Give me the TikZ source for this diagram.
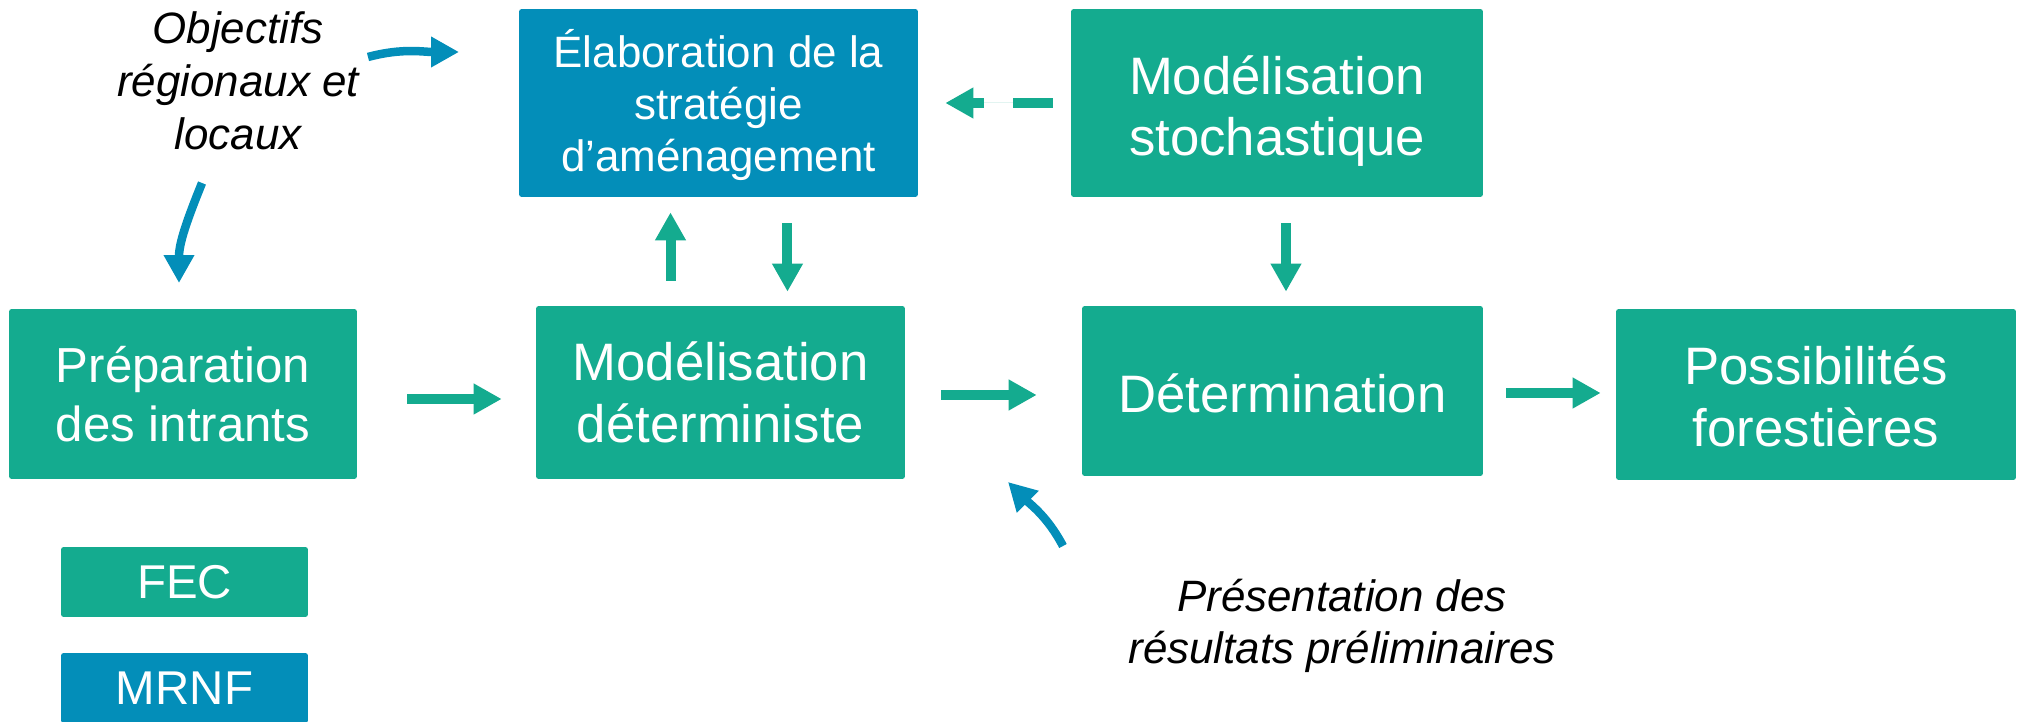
\documentclass[tikz,border=0pt]{standalone}
\usepackage{fontspec}
\setmainfont{Liberation Sans}
\usetikzlibrary{arrows.meta}
\definecolor{fecgreen}{RGB}{20,171,143}
\definecolor{mrnfblue}{RGB}{3,142,185}

\begin{document}
\begin{tikzpicture}[x=0.02cm,y=0.02cm,
  box/.style={fill=#1,text=white,rounded corners=1.5pt,inner sep=0pt,align=center,
    font=\fontsize{30}{35}\selectfont},
  garrow/.style={draw=fecgreen,fill=fecgreen,line width=0.2cm,-{Triangle[length=0.56cm,width=0.58cm]}},
  barrow/.style={draw=mrnfblue,line width=0.17cm,-{Triangle[length=0.56cm,width=0.58cm]}},
  note/.style={align=center,font=\fontsize{25}{30}\selectfont\itshape}]
\useasboundingbox (0,0) rectangle (2019,-722);
\node[box=mrnfblue,minimum width=7.98cm,minimum height=3.76cm,font=\fontsize{25}{29.5}\selectfont] (elab) at (718.5,-103) {\rule{0pt}{24pt}Élaboration de la\\stratégie\\d’aménagement};
\node[box=fecgreen,minimum width=8.24cm,minimum height=3.76cm] (stoch) at (1277,-103) {\rule{0pt}{31pt}Modélisation\\stochastique};
\node[box=fecgreen,minimum width=6.96cm,minimum height=3.4cm,font=\fontsize{28}{34}\selectfont] (prep) at (183,-394) {Préparation\\des intrants};
\node[box=fecgreen,minimum width=7.38cm,minimum height=3.46cm] (modl) at (720.5,-392.5) {Modélisation\\déterministe};
\node[box=fecgreen,minimum width=8.02cm,minimum height=3.4cm] (detm) at (1282.5,-391) {\rule{0pt}{25pt}Détermination};
\node[box=fecgreen,minimum width=8cm,minimum height=3.42cm] (poss) at (1816,-394.5) {\rule{0pt}{24pt}Possibilités\\forestières};
% legende
\node[box=fecgreen,minimum width=4.94cm,minimum height=1.4cm,font=\fontsize{27}{32}\selectfont] (fec) at (184.5,-582) {FEC};
\node[box=mrnfblue,minimum width=4.94cm,minimum height=1.4cm,font=\fontsize{27}{32}\selectfont] (mrnf) at (184.5,-688) {MRNF};
\node[note] (obj) at (238,-81) {Objectifs\\régionaux et\\locaux};
\node[note] (pres) at (1342,-626) {Présentation des\\résultats préliminaires};
% fleches
\draw[garrow,shorten <=1cm,shorten >=0.68cm] ([yshift=-0.1cm]prep.east) -- ([yshift=-0.1cm]prep.east -| modl.west);
\draw[garrow,shorten <=0.72cm,shorten >=0.9cm] ([yshift=-0.05cm]modl.east) -- ([yshift=-0.05cm]modl.east -| detm.west);
\draw[garrow,shorten <=0.46cm,shorten >=0.3cm] ([yshift=-0.04cm]detm.east) -- ([yshift=-0.04cm]detm.east -| poss.west);
\draw[garrow,shorten <=0.5cm,shorten >=0.3cm] ([xshift=-1cm]modl.north) -- ([xshift=-1cm]modl.north |- elab.south);
\draw[garrow,shorten <=0.52cm,shorten >=0.28cm] ([xshift=1.34cm]modl.north |- elab.south) -- ([xshift=1.34cm]modl.north);
\draw[garrow,shorten <=0.52cm,shorten >=0.28cm] ([xshift=0.18cm]stoch.south) -- ([xshift=0.18cm]stoch.south |- detm.north);
\draw[garrow,dash pattern=on 0.8cm off 0.58cm,shorten <=0.36cm,shorten >=0.54cm] (stoch.west) -- (elab.east);
\coordinate (o1) at (368,-57);
\coordinate (o2) at (459,-52);
\coordinate (o3) at (202,-183);
\coordinate (o4) at (179,-283);
\coordinate (p1) at (1063,-546);
\coordinate (p2) at (1008,-482);
\draw[barrow] (o1) to[out=15,in=180] (o2);
\draw[barrow] (o3) to[out=-112,in=90] (o4);
\draw[barrow] (p1) to[out=118,in=-45] (p2);
\end{tikzpicture}
\end{document}
